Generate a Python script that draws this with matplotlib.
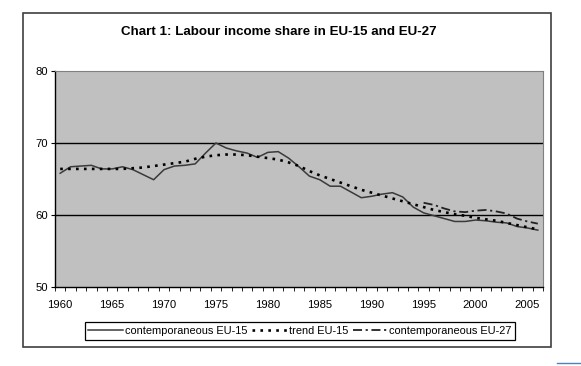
import matplotlib

matplotlib.use("Agg")
import matplotlib.pyplot as plt
import numpy as np
from matplotlib.lines import Line2D
from matplotlib.patches import Rectangle

YEARS = list(range(1960, 2007))
EU15 = [65.8, 66.7, 66.8, 66.9, 66.4, 66.4, 66.7, 66.3, 65.6, 64.9,
        66.3, 66.8, 66.9, 67.1, 68.6, 70.0, 69.3, 68.9, 68.6, 68.0,
        68.7, 68.8, 67.9, 66.7, 65.4, 64.9, 64.0, 64.0, 63.2, 62.4,
        62.6, 62.9, 63.1, 62.5, 61.1, 60.3, 59.9, 59.5, 59.1, 59.1,
        59.3, 59.2, 59.0, 58.9, 58.4, 58.2, 57.9]
TREND15 = [66.4, 66.4, 66.4, 66.4, 66.4, 66.4, 66.4, 66.5, 66.6, 66.8,
           67.0, 67.2, 67.4, 67.8, 68.1, 68.3, 68.4, 68.4, 68.3, 68.1,
           67.9, 67.7, 67.3, 66.8, 66.1, 65.5, 65.0, 64.5, 64.0, 63.5,
           63.1, 62.7, 62.3, 61.9, 61.5, 61.1, 60.7, 60.4, 60.1, 59.9,
           59.6, 59.4, 59.2, 58.9, 58.6, 58.3, 58.0]
YEARS27 = list(range(1995, 2007))
EU27 = [61.7, 61.4, 60.9, 60.5, 60.4, 60.6, 60.7, 60.5, 60.2, 59.5, 59.1, 58.8]

TITLE = "Chart 1: Labour income share in EU-15 and EU-27"
LABELS = ["contemporaneous EU-15", "trend EU-15", "contemporaneous EU-27"]

DOT = (0, (1, 2))
DASHDOT = (0, (5, 2, 1.2, 2))

plt.rcParams.update({"font.family": ["Liberation Sans", "DejaVu Sans"]})

fig = plt.figure(figsize=(5.81, 3.66), dpi=100)
fig.patch.set_facecolor("white")

# outer chart frame (Excel chart area)
fig.patches.append(Rectangle((23 / 581, 1 - 347 / 366), 528 / 581, 334 / 366,
                             transform=fig.transFigure, fill=False,
                             ec="#404040", lw=1.2))
fig.lines.append(Line2D([557 / 581, 580 / 581], [1 - 363 / 366] * 2,
                        transform=fig.transFigure, color="#4f81bd", lw=1))

ax = fig.add_axes([55 / 581, 1 - 287 / 366, 488 / 581, 216 / 366])
ax.set_facecolor("#c0c0c0")

for v in (60, 70):
    ax.axhline(v, color="black", lw=1, zorder=1)

ax.plot(YEARS, EU15, color="#3a3a3a", lw=1.1, zorder=3)
ax.plot(YEARS, TREND15, color="black", lw=1.9, ls=DOT, zorder=4)
ax.plot(YEARS27, EU27, color="#222222", lw=1.3, ls=DASHDOT, zorder=4)

ax.set_xlim(1959.5, 2006.5)
ax.set_ylim(50, 80)
ax.set_yticks([50, 60, 70, 80])
ax.set_xticks(range(1960, 2007, 5))
ax.set_xticks(np.arange(1959.5, 2007, 1), minor=True)
ax.tick_params(axis="x", which="major", length=0, pad=9, labelsize=8.1)
ax.tick_params(axis="x", which="minor", length=3, direction="out", color="black")
ax.tick_params(axis="y", length=3, direction="out", labelsize=8.1, pad=2)

for side in ("top", "right"):
    ax.spines[side].set_color("#808080")
    ax.spines[side].set_linewidth(0.8)
for side in ("left", "bottom"):
    ax.spines[side].set_color("black")
    ax.spines[side].set_linewidth(1)

fig.text(278.5 / 581, 1 - 32 / 366, TITLE, ha="center", va="center",
         fontsize=9.6, fontweight="bold")

handles = [Line2D([0], [0], color="#3a3a3a", lw=1.1),
           Line2D([0], [0], color="black", lw=1.9, ls=DOT),
           Line2D([0], [0], color="#222222", lw=1.3, ls=DASHDOT)]
leg = fig.legend(handles, LABELS, loc="center", ncol=3,
                 bbox_to_anchor=(300 / 581, 1 - 331 / 366),
                 fontsize=7.9, frameon=True, fancybox=False,
                 edgecolor="black", framealpha=1, handlelength=3.2,
                 handletextpad=0.15, columnspacing=0.4, borderpad=0.35)
leg.get_frame().set_linewidth(0.9)

fig.savefig("out.png", dpi=100)
